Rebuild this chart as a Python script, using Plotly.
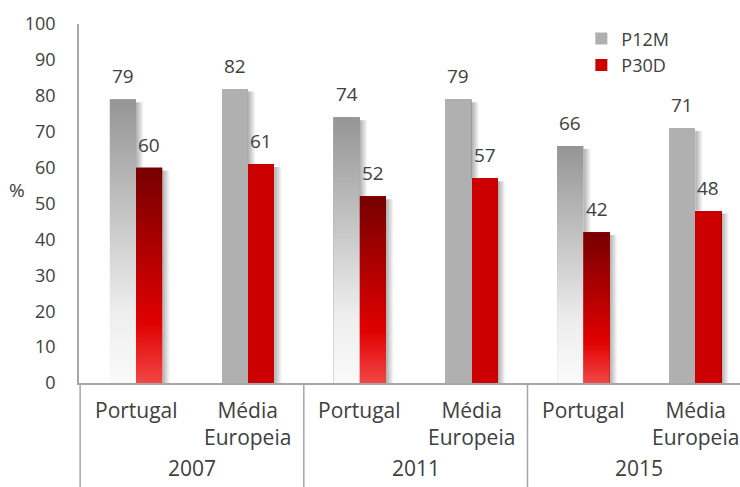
"""Grouped bars P12M / P30D, Portugal vs Média Europeia, 2007-2015."""

import plotly.graph_objects as go

years = ["2007", "2011", "2015"]
regions = ["Portugal", "Média<br>Europeia"]
p12m = [79, 82, 74, 79, 66, 71]
p30d = [60, 61, 52, 57, 42, 48]

FONT = "Open Sans, Lato, sans-serif"
INK = "#404040"
C_GRAY = "#b0b0b0"
C_RED = "#cc0000"
AXIS = "#a6a6a6"

BAR_W = 0.235
SHADOW_W = 0.07

# Portugal bars get a vertical gradient, Média bars stay solid
GRAD_GRAY = [[0, "#fafafa"], [0.25, "#eeeeee"], [1, "#959595"]]
GRAD_RED = [[0, "#f24646"], [0.28, "#e00000"], [1, "#760000"]]
SHADOW = [[0, "rgba(0,0,0,0.32)"], [1, "rgba(0,0,0,0)"]]

n = len(p12m)
xs = list(range(n))
x_gray = [x - BAR_W / 2 for x in xs]
x_red = [x + BAR_W / 2 for x in xs]

fig = go.Figure()


def rect(x0, x1, y0, y1, grad):
    fig.add_trace(go.Scatter(
        x=[x0, x1, x1, x0, x0], y=[y0, y0, y1, y1, y0],
        mode="lines", fill="toself", line={"width": 0},
        fillgradient=grad, hoverinfo="skip", showlegend=False))


fig.add_trace(go.Bar(
    x=x_gray, y=p12m, width=BAR_W, name="P12M",
    marker={"color": C_GRAY, "line": {"width": 0}}))
fig.add_trace(go.Bar(
    x=x_red, y=p30d, width=BAR_W, name="P30D",
    marker={"color": C_RED, "line": {"width": 0}}))

# soft drop shadows to the right of each bar
for i in range(n):
    xg1 = x_gray[i] + BAR_W / 2
    rect(xg1, xg1 + SHADOW_W, p30d[i], p12m[i] - 0.8,
         {"type": "horizontal", "start": xg1, "stop": xg1 + SHADOW_W,
          "colorscale": SHADOW})
    xr1 = x_red[i] + BAR_W / 2
    rect(xr1, xr1 + SHADOW_W, 0, p30d[i] - 0.8,
         {"type": "horizontal", "start": xr1, "stop": xr1 + SHADOW_W,
          "colorscale": SHADOW})

# gradient overlay on the Portugal bars
for i in range(0, n, 2):
    rect(x_gray[i] - BAR_W / 2, x_gray[i] + BAR_W / 2, 0, p12m[i],
         {"type": "vertical", "start": 0, "stop": p12m[i],
          "colorscale": GRAD_GRAY})
    rect(x_red[i] - BAR_W / 2, x_red[i] + BAR_W / 2, 0, p30d[i],
         {"type": "vertical", "start": 0, "stop": p30d[i],
          "colorscale": GRAD_RED})

annotations = []
# value labels, sitting a little higher than plotly's own outside text
label_font = {"size": 19, "color": INK, "family": FONT}
for xv, vals in ((x_gray, p12m), (x_red, p30d)):
    for x, v in zip(xv, vals):
        annotations.append(dict(
            x=x, y=v, text=str(v), showarrow=False, yanchor="middle",
            yshift=23, font=label_font))

# two-level category labels under the axis
cat_font = {"size": 21, "color": INK, "family": FONT}
for gi, year in enumerate(years):
    for ri, region in enumerate(regions):
        i = gi * len(regions) + ri
        annotations.append(dict(
            x=i, y=-0.075 if ri == 0 else -0.113, xref="x", yref="paper",
            text=region, showarrow=False, yanchor="middle", font=cat_font))
    annotations.append(dict(
        x=gi * len(regions) + 0.5, y=-0.237, xref="x", yref="paper",
        text=year, showarrow=False, yanchor="middle", font=cat_font))
annotations.append(dict(
    x=-62 / 661, y=0.538, xref="paper", yref="paper", xanchor="center",
    text="%", showarrow=False, yanchor="middle",
    font={"size": 19, "color": INK, "family": FONT}))

shapes = []
for gi in range(len(years)):
    x0 = gi * len(regions) - 0.5
    shapes.append(dict(type="line", xref="x", yref="paper", x0=x0, x1=x0,
                       y0=0, y1=-0.3, line={"color": AXIS, "width": 1.5}))

fig.update_layout(
    width=740, height=487,
    margin={"l": 79, "r": 0, "t": 24, "b": 104},
    plot_bgcolor="white", paper_bgcolor="white",
    barmode="overlay", bargap=0,
    font={"family": FONT, "size": 18, "color": INK},
    xaxis={"range": [-0.51, 5.40], "showticklabels": False, "ticks": "",
           "showgrid": False, "zeroline": False, "showline": True,
           "linecolor": AXIS, "linewidth": 1.5},
    yaxis={"range": [0, 100], "dtick": 10, "showgrid": False,
           "zeroline": False, "showline": True, "linecolor": AXIS,
           "linewidth": 1.5, "ticks": "", "ticklabelstandoff": 18,
           "tickfont": {"size": 18, "color": INK, "family": FONT}},
    legend={"x": 0.76, "y": 1.01, "xanchor": "left", "yanchor": "top",
            "bgcolor": "rgba(0,0,0,0)", "tracegroupgap": 0,
            "font": {"size": 18, "color": INK, "family": FONT},
            "itemwidth": 30},
    annotations=annotations, shapes=shapes,
)

fig.write_html("out.html", config={"displayModeBar": False},
               post_script="document.body.style.margin='0';")
